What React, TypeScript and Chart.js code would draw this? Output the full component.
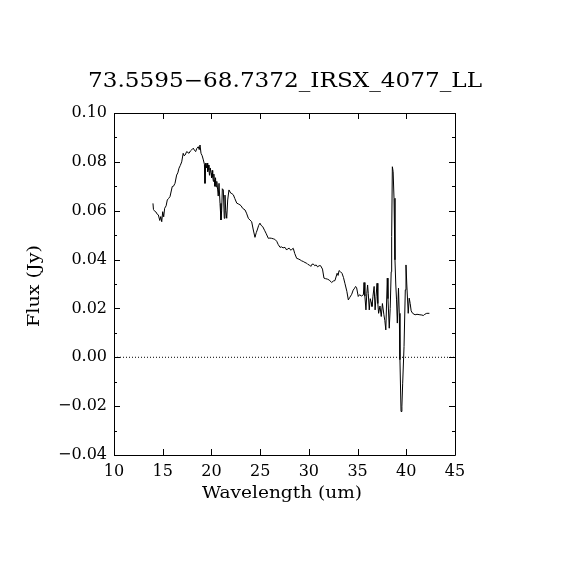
import React, { useEffect, useRef } from "react";
import { Chart, registerables } from "chart.js";

Chart.register(...registerables);

const TITLE = "73.5595\u221268.7372_IRSX_4077_LL";
const X_LABEL = "Wavelength (um)";
const Y_LABEL = "Flux (Jy)";

const wavelength: number[] = [
  14.0, 14.05, 14.13, 14.3, 14.45, 14.55, 14.7, 14.8, 14.9, 15.0, 15.1, 15.2, 15.35, 15.47, 15.6, 15.75,
  15.98, 16.1, 16.26, 16.43, 16.55, 16.67, 16.8, 16.95, 17.1, 17.2, 17.3, 17.46, 17.6, 17.7, 17.85, 17.97,
  18.14, 18.25, 18.38, 18.5, 18.65, 18.75, 18.83, 18.93, 19.05, 19.17, 19.28, 19.34,
  19.41, 19.48, 19.55, 19.62, 19.68, 19.75, 19.8, 19.88, 19.96, 20.02, 20.08, 20.13,
  20.2, 20.25, 20.29, 20.36, 20.42, 20.47, 20.55, 20.64, 20.7, 20.78, 20.88, 20.98,
  21.05, 21.12, 21.22, 21.32, 21.39, 21.47, 21.57, 21.67, 21.8, 21.98, 22.1, 22.25,
  22.4, 22.6, 22.75, 22.93, 23.05, 23.2, 23.45, 23.6, 23.79, 23.95, 24.13, 24.3, 24.47, 24.6, 24.7, 24.85,
  24.98, 25.1, 25.26, 25.45, 25.6, 25.84, 26.0, 26.18, 26.35, 26.5, 26.7, 26.85, 27.04, 27.2, 27.35, 27.55,
  27.72, 27.85, 28.0, 28.15, 28.25, 28.4, 28.55, 28.75, 28.9, 29.1, 29.25, 29.43, 29.6, 29.78, 29.9, 30.05,
  30.2, 30.3, 30.45, 30.6, 30.75, 30.9, 31.05, 31.2, 31.4, 31.55, 31.7, 31.9, 32.1, 32.34, 32.5, 32.68,
  32.9, 33.0, 33.1, 33.25, 33.4, 33.55, 33.7, 33.9, 34.05, 34.2, 34.4, 34.55, 34.7, 34.8, 34.9, 35.07,
  35.2, 35.4, 35.6, 35.66, 35.75, 35.86, 35.95, 36.03, 36.1, 36.2, 36.3, 36.4, 36.48, 36.58, 36.7, 36.8,
  36.9, 37.0, 37.08, 37.16, 37.3, 37.43, 37.55, 37.7, 37.8, 37.9, 38.05, 38.12, 38.25, 38.35, 38.45, 38.5,
  38.57, 38.65, 38.74, 38.84, 38.92, 39.0, 39.08, 39.2, 39.28, 39.35, 39.46, 39.55, 39.63, 39.77, 39.9,
  39.97, 40.05, 40.2, 40.3, 40.4, 40.5, 40.65, 40.9, 41.1, 41.4, 41.6, 41.75, 41.9, 42.1, 42.37,
];

const flux: number[] = [
  0.063, 0.0605, 0.06, 0.0595, 0.0585, 0.0583, 0.056, 0.0576, 0.0555, 0.0596, 0.0575, 0.061, 0.062, 0.0644, 0.065, 0.0658,
  0.0699, 0.07, 0.0712, 0.0746, 0.0755, 0.0774, 0.0785, 0.08, 0.0835, 0.0825, 0.0828, 0.0842, 0.0838, 0.0835, 0.0845, 0.0849,
  0.0856, 0.0848, 0.0842, 0.0855, 0.0862, 0.085, 0.0869, 0.0835, 0.0825, 0.0808, 0.079, 0.0712,
  0.0795, 0.0775, 0.0795, 0.076, 0.0787, 0.0767, 0.0745, 0.0775, 0.0753, 0.0735, 0.0765, 0.0739,
  0.072, 0.075, 0.0726, 0.07, 0.0735, 0.0698, 0.072, 0.0685, 0.066, 0.0712, 0.063, 0.0562,
  0.06, 0.069, 0.0685, 0.0569, 0.0664, 0.06, 0.0569, 0.0644, 0.0685, 0.0672, 0.067, 0.0665,
  0.065, 0.0631, 0.0628, 0.0624, 0.062, 0.061, 0.0603, 0.059, 0.0569, 0.0562, 0.0555, 0.0521, 0.0491, 0.051, 0.0521, 0.054,
  0.0549, 0.054, 0.0535, 0.052, 0.0508, 0.0487, 0.0488, 0.0487, 0.0485, 0.0483, 0.0475, 0.0462, 0.045, 0.0452, 0.0448, 0.045,
  0.0439, 0.0445, 0.0446, 0.0438, 0.0442, 0.0446, 0.0425, 0.0405, 0.0403, 0.0399, 0.0395, 0.0392, 0.0388, 0.0385, 0.038, 0.0378,
  0.0372, 0.038, 0.0382, 0.0375, 0.0378, 0.037, 0.0375, 0.0375, 0.0361, 0.0324, 0.0322, 0.032, 0.0316, 0.0306, 0.0312, 0.0314,
  0.0344, 0.0335, 0.0355, 0.035, 0.0344, 0.0327, 0.0303, 0.027, 0.0235, 0.0245, 0.0258, 0.0275, 0.0283, 0.029, 0.0285, 0.0249,
  0.0256, 0.0251, 0.0256, 0.0306, 0.025, 0.0194, 0.0262, 0.0296, 0.026, 0.0194, 0.024, 0.0225, 0.0208, 0.025, 0.029, 0.0194,
  0.025, 0.0303, 0.022, 0.018, 0.021, 0.0167, 0.022, 0.0174, 0.015, 0.0112, 0.0324, 0.024, 0.0119, 0.02, 0.035, 0.0494,
  0.078, 0.076, 0.0651, 0.0399, 0.03, 0.0235, 0.014, 0.0283, 0.018, -0.001, -0.0222, -0.02, -0.0106, 0.0044, 0.0276,
  0.0378, 0.03, 0.018, 0.0242, 0.022, 0.019, 0.018, 0.0174, 0.0176, 0.0174, 0.0173, 0.0171, 0.0176, 0.018, 0.018,
];

const X_MIN = 10;
const X_MAX = 45;
const X_STEP = 5;
const Y_MIN = -0.04;
const Y_MAX = 0.1;
const Y_STEP = 0.02;
const Y_MINOR_STEP = 0.01;

const SERIF = "'DejaVu Serif', 'Liberation Serif', serif";

function drawFitted(ctx: CanvasRenderingContext2D, text: string, cx: number, cy: number, width: number) {
  const w = ctx.measureText(text).width;
  ctx.save();
  ctx.translate(cx, cy);
  ctx.scale(width / w, 1);
  ctx.textAlign = "center";
  ctx.fillText(text, 0, 0);
  ctx.restore();
}

const framePlugin = {
  id: "frame",
  afterDatasetsDraw(chart: any) {
    const { ctx, chartArea } = chart;
    const xs = chart.scales.x;
    const ys = chart.scales.y;
    const { left, right, top, bottom } = chartArea;
    ctx.save();
    ctx.strokeStyle = "#000";
    ctx.lineWidth = 1;
    ctx.beginPath();
    ctx.rect(Math.round(left) + 0.5, Math.round(top) + 0.5, Math.round(right - left), Math.round(bottom - top));
    ctx.stroke();
    ctx.beginPath();
    for (let v = X_MIN; v <= X_MAX + 1e-9; v += X_STEP) {
      const px = Math.round(xs.getPixelForValue(v)) + 0.5;
      ctx.moveTo(px, bottom);
      ctx.lineTo(px, bottom - 6);
      ctx.moveTo(px, top);
      ctx.lineTo(px, top + 6);
    }
    const nMinor = Math.round((Y_MAX - Y_MIN) / Y_MINOR_STEP);
    for (let i = 0; i <= nMinor; i++) {
      const v = Y_MIN + i * Y_MINOR_STEP;
      const major = i % 2 === 0;
      const len = major ? 6 : 3;
      const py = Math.round(ys.getPixelForValue(v)) + 0.5;
      ctx.moveTo(left, py);
      ctx.lineTo(left + len, py);
      ctx.moveTo(right, py);
      ctx.lineTo(right - len, py);
    }
    ctx.stroke();

    ctx.fillStyle = "#000";
    ctx.textBaseline = "alphabetic";
    ctx.font = `20px ${SERIF}`;
    drawFitted(ctx, TITLE, 285, 87, 394);
    ctx.font = `16px ${SERIF}`;
    drawFitted(ctx, X_LABEL, 282, 498, 160);
    ctx.save();
    ctx.translate(39, 286);
    ctx.rotate(-Math.PI / 2);
    drawFitted(ctx, Y_LABEL, 0, 0, 82);
    ctx.restore();
    ctx.restore();
  },
};

export default function App() {
  const ref = useRef<HTMLCanvasElement | null>(null);
  useEffect(() => {
    if (!ref.current) return;
    const points = wavelength.map((x, i) => ({ x, y: flux[i] }));
    const chart = new Chart(ref.current, {
      type: "line",
      data: {
        datasets: [
          {
            data: points,
            borderColor: "#000",
            borderWidth: 1,
            pointRadius: 0,
            tension: 0,
            fill: false,
          },
          {
            data: [
              { x: X_MIN, y: 0 },
              { x: X_MAX, y: 0 },
            ],
            borderColor: "#000",
            borderWidth: 1,
            borderDash: [1, 2],
            pointRadius: 0,
            fill: false,
          },
        ],
      },
      options: {
        animation: false,
        responsive: false,
        devicePixelRatio: 1,
        layout: { padding: { top: 113, right: 115, left: 0, bottom: 0 } },
        plugins: { legend: { display: false }, tooltip: { enabled: false }, title: { display: false } },
        scales: {
          x: {
            type: "linear",
            min: X_MIN,
            max: X_MAX,
            grid: { display: false, drawTicks: false },
            border: { display: false },
            ticks: {
              stepSize: X_STEP,
              color: "#000",
              padding: 7,
              maxRotation: 0,
              font: { family: SERIF, size: 16 },
            },
            afterFit: (s: any) => {
              s.height = 115;
            },
          },
          y: {
            type: "linear",
            min: Y_MIN,
            max: Y_MAX,
            grid: { display: false, drawTicks: false },
            border: { display: false },
            ticks: {
              stepSize: Y_STEP,
              color: "#000",
              padding: 7,
              font: { family: SERIF, size: 16 },
              callback: (v: any) => {
                const n = Number(v);
                const r = Math.round(n * 100) / 100;
                return (r < 0 ? "\u2212" : "") + Math.abs(r).toFixed(2);
              },
            },
            afterFit: (s: any) => {
              s.width = 114;
            },
          },
        },
      },
      plugins: [framePlugin],
    });
    return () => chart.destroy();
  }, []);
  return (
    <div style={{ position: "fixed", left: 0, top: 0, width: 570, height: 570, background: "#fff" }}>
      <canvas ref={ref} width={570} height={570} style={{ width: 570, height: 570, display: "block" }} />
    </div>
  );
}
